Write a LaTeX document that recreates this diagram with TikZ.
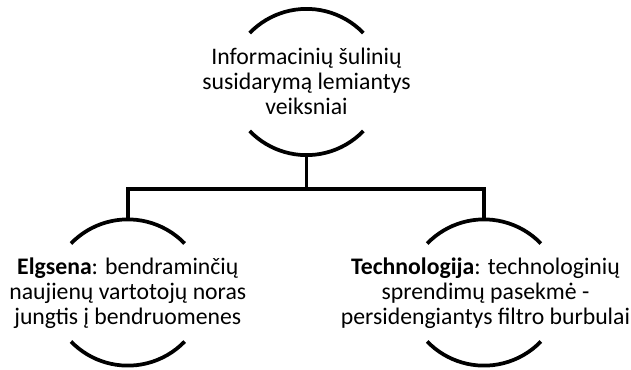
\documentclass[tikz,border=0pt]{standalone}
\usepackage{fontspec}
\setmainfont{Carlito}
\begin{document}
\begin{tikzpicture}[x=0.75pt,y=-0.75pt,
  conn/.style={line width=2.8pt,line cap=butt,line join=miter},
  bowl/.style={line width=2.8pt,line cap=butt},
  label/.style={align=center,anchor=base,inner sep=0pt,font=\fontsize{17.8}{18.4}\selectfont}]
\useasboundingbox (0,0) rectangle (631,369);
% top node
\node[label] (top) at (306.5,114) {Informacinių šulinių\\susidarymą lemiantys\\veiksniai};
\draw[bowl] (249.7,33) arc[start angle=136,end angle=44,radius=59.25pt];
\draw[bowl] (249.7,131) arc[start angle=224,end angle=316,radius=59.25pt];
\coordinate (topb) at (306.5,155);
% left node
\node[label] (left) at (127.8,324) {\textbf{Elgsena}: bendraminčių\\naujienų vartotojų noras\\jungtis į bendruomenes};
\draw[bowl] (71,243.5) arc[start angle=136,end angle=44,radius=59.25pt];
\draw[bowl] (71,341.5) arc[start angle=224,end angle=316,radius=59.25pt];
\coordinate (leftt) at (127.8,219.5);
% right node
\node[label] (right) at (485.5,324) {\textbf{Technologija}: technologinių\\sprendimų pasekmė -\\persidengiantys filtro burbulai};
\draw[bowl] (427.2,243.5) arc[start angle=136,end angle=44,radius=59.25pt];
\draw[bowl] (427.2,341.5) arc[start angle=224,end angle=316,radius=59.25pt];
\coordinate (rightt) at (484,219.5);
% connectors
\coordinate (bar) at (306.5,189);
\draw[conn] (topb) -- (bar);
\draw[conn] (leftt) -- (leftt |- bar) -- (rightt |- bar) -- (rightt);
\end{tikzpicture}
\end{document}
